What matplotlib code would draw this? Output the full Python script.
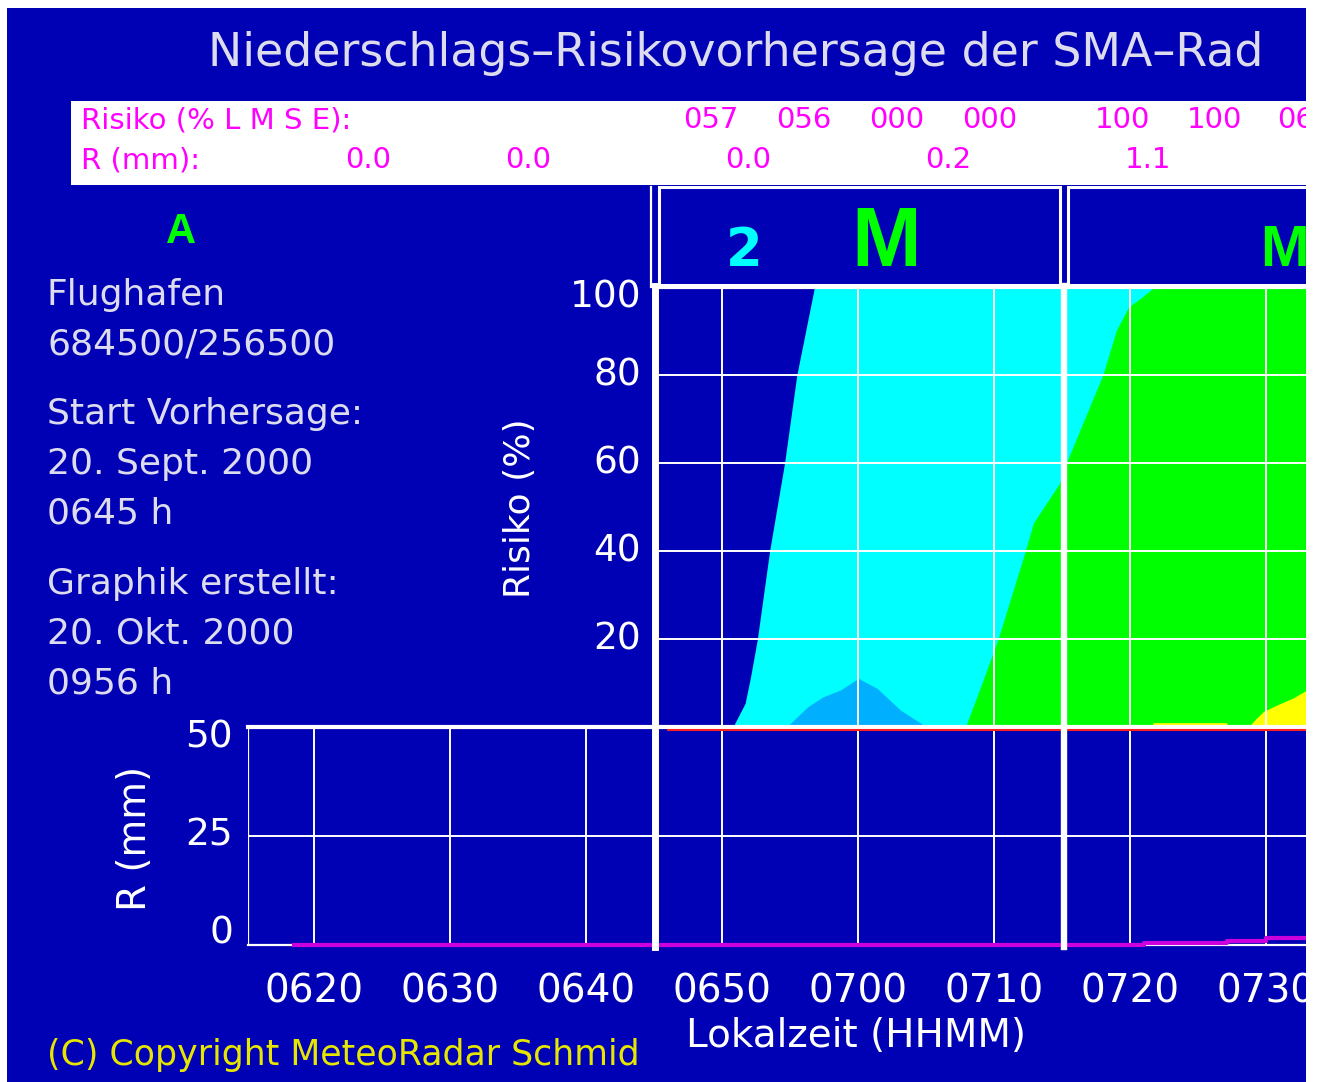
import matplotlib.pyplot as plt
from matplotlib.patches import Rectangle
from matplotlib.lines import Line2D

# figure size in pixels, everything below is laid out in image pixels
W, H = 1318, 1082
BLUE = '#0000B4'
WHITE = '#FFFFFF'

# time axis: minutes after 06:00
# risk curves (%) for the levels L, M, S and the small bump
t_light = [45.0, 50.8, 51.7, 52.1, 52.6, 53.5, 54.6, 55.5, 56.8, 93.0]
r_light = [0, 0, 5.4, 11.4, 20, 40, 60, 80, 100, 100]
t_mod = [45.0, 67.9, 69.2, 70.3, 72.3, 72.9, 74.8, 75.5, 78.0, 79.0, 79.9, 80.8, 81.8, 93.0]
r_mod = [0, 0, 10.7, 20, 40, 46.4, 55.3, 61.4, 80, 90.2, 95.5, 97.5, 100, 100]
t_bump = [54.75, 56.3, 57.45, 58.7, 59.9, 60.0, 61.4, 63.1, 65.05]
r_bump = [0, 4.6, 6.9, 8.4, 10.8, 11.1, 8.8, 3.9, 0]
t_strong = [81.6, 81.7, 87.1, 87.2, 88.7, 89.3, 89.8, 90.8, 92.0, 93.0]
r_strong = [0, 1.0, 1.0, 0, 0, 2.0, 3.5, 5.0, 6.6, 8.4]

# precipitation (mm), step line
t_rain = [18.5, 81.0, 87.1, 90.0, 93.0]
r_rain = [0, 0.5, 1.0, 1.5, 1.5]

xticks = [20, 30, 40, 50, 60, 70, 80, 90]
xlabels = ['0620', '0630', '0640', '0650', '0700', '0710', '0720', '0730']
risk_ticks = [100, 80, 60, 40, 20]
rain_ticks = [50, 25, 0]

info_lines = ['Flughafen', '684500/256500', 'Start Vorhersage:', '20. Sept. 2000',
              '0645 h', 'Graphik erstellt:', '20. Okt. 2000', '0956 h']
info_y = [295, 344, 414, 464, 514, 584, 634, 684]

risk_vals = ['057', '056', '000', '000', '100', '100', '06']
risk_x = [711, 804, 897, 990, 1122, 1215, 1296]
rain_vals = ['0.0', '0.0', '0.0', '0.2', '1.1']
rain_x = [368, 528, 748, 948, 1148]

FONT = 'DejaVu Sans'


def fx(x):
    return x / W


def fy(y):
    return 1 - y / H


def px_to_t(x):
    return 20 + (x - 314) / 13.6


def add_axes(x0, x1, y0, y1):
    # pixel box -> axes
    return fig.add_axes([fx(x0), fy(y1), (x1 - x0) / W, (y1 - y0) / H])


fig = plt.figure(figsize=(W / 100, H / 100), dpi=100)
fig.patch.set_facecolor(BLUE)

# title (runs into the right edge in the original)
fig.text(fx(208), fy(66), 'Niederschlags\u2013Risikovorhersage der SMA\u2013Rad',
         color='#DCDCEE', fontsize=33, family=FONT, va='baseline', ha='left')

# white info box
fig.patches.append(Rectangle((fx(71), fy(185)), (1320 - 71) / W, 84 / H,
                             transform=fig.transFigure, facecolor=WHITE,
                             edgecolor='none', zorder=1))
fig.text(fx(81), fy(120), 'Risiko (% L M S E):', color='#FF00FF', fontsize=21,
         family=FONT, va='center', zorder=2)
fig.text(fx(81), fy(160), 'R (mm):', color='#FF00FF', fontsize=21,
         family=FONT, va='center', zorder=2)
for s, x in zip(risk_vals, risk_x):
    fig.text(fx(x), fy(120), s, color='#FF00FF', fontsize=21, family=FONT,
             va='center', ha='center', zorder=2)
for s, x in zip(rain_vals, rain_x):
    fig.text(fx(x), fy(160), s, color='#FF00FF', fontsize=21, family=FONT,
             va='center', ha='center', zorder=2)

# left info column
fig.text(fx(181), fy(232), 'A', color='#00FF00', fontsize=30,
         family='Liberation Sans', weight='bold', ha='center', va='center')
for s, y in zip(info_lines, info_y):
    fig.text(fx(47), fy(y), s, color='#DCDCEE', fontsize=26, family=FONT,
             va='center', ha='left')

# header boxes
for x0, x1 in [(659, 1060), (1068, 1330)]:
    fig.patches.append(Rectangle((fx(x0), fy(285)), (x1 - x0) / W, 98 / H,
                                 transform=fig.transFigure, facecolor=BLUE,
                                 edgecolor=WHITE, lw=2.2, zorder=1))
fig.text(fx(744), fy(266), '2', color='#00FFFF', fontsize=38, family=FONT,
         weight='bold', ha='center', va='baseline')
fig.text(fx(886), fy(266), 'M', color='#00FF00', fontsize=60,
         family='Liberation Sans', weight='bold', ha='center', va='baseline')
fig.text(fx(1284), fy(266), 'M', color='#00FF00', fontsize=42,
         family='Liberation Sans', weight='bold', ha='center', va='baseline')

# risk panel
ax_r = add_axes(658, 1306, 287, 727)
ax_r.set_facecolor(BLUE)
ax_r.fill_between(t_light, r_light, color='#00FFFF', lw=0, zorder=1)
ax_r.fill_between(t_bump, r_bump, color='#00B0FF', lw=0, zorder=2)
ax_r.fill_between(t_mod, r_mod, color='#00FF00', lw=0, zorder=3)
ax_r.fill_between(t_strong, r_strong, color='#FFFF00', lw=0, zorder=4)
ax_r.set_xlim(px_to_t(658), px_to_t(1306))
ax_r.set_ylim(0, 100)
for t in xticks[3:]:
    ax_r.axvline(t, color=WHITE, lw=1.4, zorder=5)
for r in [20, 40, 60, 80]:
    ax_r.axhline(r, color=WHITE, lw=1.4, zorder=5)
ax_r.axhline(100, color=WHITE, lw=3, zorder=5, clip_on=False)
ax_r.axhline(0, color=WHITE, lw=2.5, zorder=5, clip_on=False)
ax_r.set_xticks([])
ax_r.set_yticks([])
for sp in ax_r.spines.values():
    sp.set_visible(False)

for r in risk_ticks:
    y = 727 - r * 4.4
    if r == 100:
        y += 11
    fig.text(fx(641), fy(y), str(r), color=WHITE, fontsize=27, family=FONT,
             ha='right', va='center')
fig.text(fx(520), fy(508), 'Risiko (%)', color=WHITE, fontsize=26, family=FONT,
         rotation=90, ha='center', va='center')

# precipitation panel
ax_b = add_axes(248, 1306, 727, 945)
ax_b.set_facecolor(BLUE)
ax_b.set_xlim(px_to_t(248), px_to_t(1306))
ax_b.set_ylim(0, 50)
for t in xticks:
    ax_b.axvline(t, color=WHITE, lw=1.4, zorder=1)
ax_b.axhline(25, color=WHITE, lw=1.4, zorder=1)
ax_b.axhline(50, color=WHITE, lw=3, zorder=1, clip_on=False)
ax_b.axhline(0, color=WHITE, lw=1.6, zorder=1, clip_on=False)
ax_b.axvline(ax_b.get_xlim()[0], color=WHITE, lw=1.6, zorder=1)
ax_b.plot([46.0, 93.0], [49.3, 49.3], color='#FF2020', lw=1.5, zorder=2)
ax_b.plot(t_rain, r_rain, color='#CC00DD', lw=3, drawstyle='steps-post',
          zorder=3, clip_on=False)
ax_b.set_xticks(xticks)
ax_b.set_xticklabels(xlabels)
ax_b.tick_params(axis='x', length=0, pad=20, labelsize=28, labelcolor=WHITE)
ax_b.set_yticks([])
for lab in ax_b.get_xticklabels():
    lab.set_family(FONT)
for sp in ax_b.spines.values():
    sp.set_visible(False)

for r in rain_ticks:
    y = 945 - r * 4.36
    if r == 50:
        y += 11
    if r == 0:
        y -= 12
    fig.text(fx(233), fy(y), str(r), color=WHITE, fontsize=27, family=FONT,
             ha='right', va='center')
fig.text(fx(135), fy(838), 'R (mm)', color=WHITE, fontsize=28, family=FONT,
         rotation=90, ha='center', va='center')

# thick separators at 0645 and 0715 (plot zone), thin line in the header zone
for x, lw in [(655, 5.0), (1064, 4.6)]:
    fig.lines.append(Line2D([fx(x), fx(x)], [fy(286), fy(947)],
                            transform=fig.transFigure, color=WHITE, lw=lw,
                            zorder=6))
fig.lines.append(Line2D([fx(651), fx(651)], [fy(187), fy(287)],
                        transform=fig.transFigure, color=WHITE, lw=1.6,
                        zorder=6))

fig.text(fx(856), fy(1036), 'Lokalzeit (HHMM)', color=WHITE, fontsize=28,
         family=FONT, ha='center', va='center')
fig.text(fx(47), fy(1055), '(C) Copyright MeteoRadar Schmid', color='#E6E600',
         fontsize=25, family=FONT, ha='left', va='center')

# white page margins (left, top, right)
for x0, y0, w, h in [(0, 0, 7, H), (0, 0, W, 8), (1306, 0, 12, H)]:
    fig.patches.append(Rectangle((fx(x0), fy(y0 + h)), w / W, h / H,
                                 transform=fig.transFigure, facecolor=WHITE,
                                 edgecolor='none', zorder=50))

fig.savefig('out.png', dpi=100, facecolor=fig.get_facecolor())
